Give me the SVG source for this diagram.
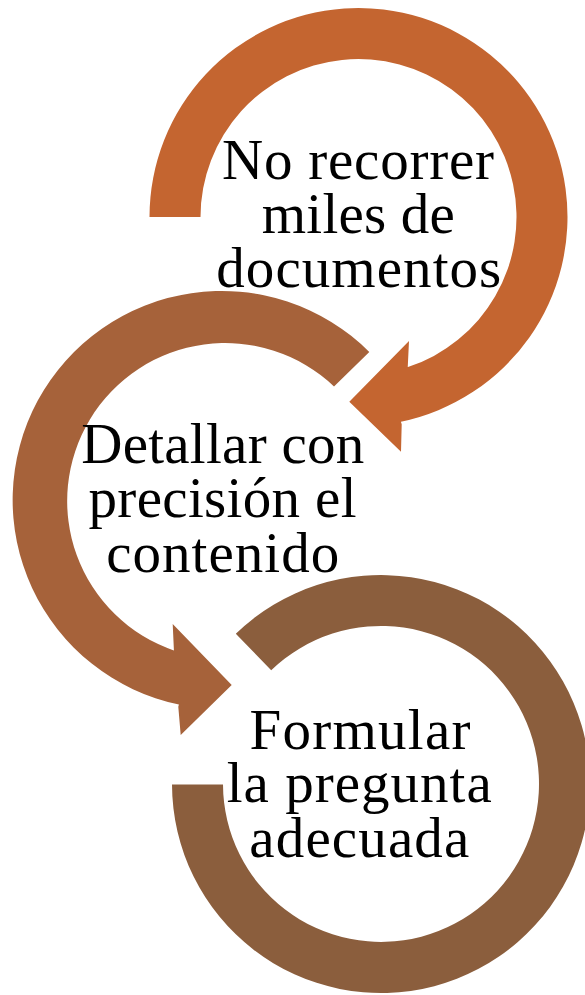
<svg xmlns="http://www.w3.org/2000/svg" width="585" height="995" viewBox="0 0 585 995">
<style>
.lbl{font-family:"Liberation Serif","Times New Roman",serif;font-size:57px;fill:#000;text-anchor:middle}
.a1{fill:#C46530}
.a2{fill:#A6623A}
.a3{fill:#8B5E3D}
</style>
<rect width="585" height="995" fill="#fff"/>
<g id="node-1">
<path class="a1" d="M149.5,217 A209,209 0 1 1 400.9,421.7 L401.7,424.3 L401,451.7 L349.3,401.7 L409,341 L407.7,368.3 L407.3,367.3 A158,158 0 1 0 200.5,217 Z"/>
<text class="lbl"><tspan x="358" y="179" textLength="272" lengthAdjust="spacing">No recorrer</tspan><tspan x="358.3" y="232.5" textLength="193" lengthAdjust="spacing">miles de</tspan><tspan x="358.8" y="287" textLength="285" lengthAdjust="spacing">documentos</tspan></text>
</g>
<g id="node-2">
<path class="a2" d="M369.3,352 A209,209 0 1 0 178.9,704.5 L178.3,706.7 L180.7,735 L231.7,685 L172.7,624 L174,652.3 L174.5,650.7 A158,158 0 1 1 334,386.5 Z"/>
<text class="lbl"><tspan x="222.7" y="463.3" textLength="283" lengthAdjust="spacing">Detallar con</tspan><tspan x="222.5" y="517.3" textLength="268" lengthAdjust="spacing">precisión el</tspan><tspan x="222.7" y="572.3" textLength="233" lengthAdjust="spacing">contenido</tspan></text>
</g>
<g id="node-3">
<path class="a3" d="M235.8,633.7 A209,209 0 1 1 172,784.5 L223,784.5 A158,158 0 1 0 271.2,670.3 Z"/>
<text class="lbl"><tspan x="360" y="749" textLength="221" lengthAdjust="spacing">Formular</tspan><tspan x="359.2" y="802.3" textLength="265" lengthAdjust="spacing">la pregunta</tspan><tspan x="359.3" y="856.7" textLength="220" lengthAdjust="spacing">adecuada</tspan></text>
</g>
</svg>
